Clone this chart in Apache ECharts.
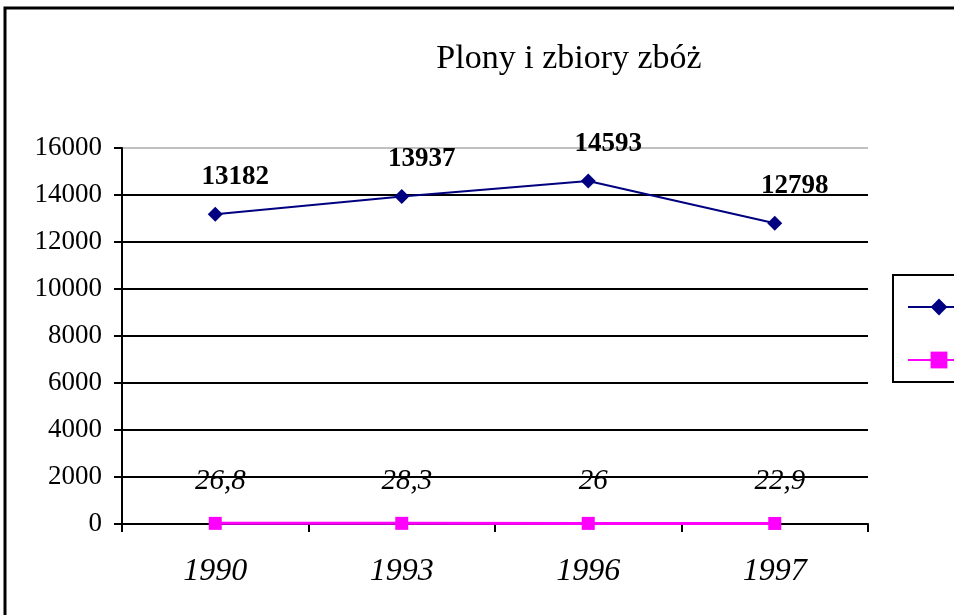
<!DOCTYPE html>
<html>
<head>
<meta charset="utf-8">
<script src="https://cdn.jsdelivr.net/npm/echarts@6/dist/echarts.min.js"></script>
<style>
  html, body { margin: 0; padding: 0; background: #fff; }
  #chart { width: 954px; height: 615px; }
</style>
</head>
<body>
<div id="chart"></div>
<script>
  // dane z wykresu
  var years = ['1990', '1993', '1996', '1997'];
  var zbiory = [13182, 13937, 14593, 12798];   // tys. t
  var plony = [26.8, 28.3, 26, 22.9];          // dt z 1 ha
  var seriesNames = ['zbiory w tys. t', 'plony z 1 ha w dt'];

  var serif = '"Liberation Serif", "DejaVu Serif", serif';
  var chart = echarts.init(document.getElementById('chart'));

  // górna linia siatki szara, reszta czarna
  var gridColors = ['#000', '#000', '#000', '#000', '#000', '#000', '#000', '#000', '#c0c0c0'];

  var option = {
    animation: false,
    backgroundColor: '#fff',
    title: {
      text: 'Plony i zbiory zbóż',
      left: 564,
      top: 37,
      textAlign: 'center',
      textStyle: { fontFamily: serif, fontWeight: 'normal', fontSize: 34, color: '#000' }
    },
    graphic: [{
      type: 'rect',
      shape: { x: 5, y: 8, width: 1200, height: 800 },
      style: { fill: 'none', stroke: '#000', lineWidth: 3 },
      silent: true
    }],
    legend: {
      left: 893,
      top: 275,
      orient: 'vertical',
      itemWidth: 62,
      itemHeight: 21,
      itemGap: 33,
      padding: [22, 40, 12, 14],
      borderColor: '#000',
      borderWidth: 2,
      textStyle: { fontFamily: serif, fontSize: 20, color: '#000' },
      data: seriesNames
    },
    grid: { left: 122, right: 86, top: 148, bottom: 91 },
    xAxis: {
      type: 'category',
      data: years,
      boundaryGap: true,
      axisLine: { lineStyle: { color: '#000', width: 2 } },
      axisTick: { show: true, length: 8, lineStyle: { color: '#000', width: 2 } },
      axisLabel: {
        margin: 32, fontFamily: serif, fontStyle: 'italic', fontSize: 32, color: '#000'
      },
      splitLine: { show: false }
    },
    yAxis: {
      type: 'value',
      min: 0,
      max: 16000,
      interval: 2000,
      axisLine: { show: true, lineStyle: { color: '#000', width: 2 } },
      axisTick: { show: true, length: 8, lineStyle: { color: '#000', width: 2 } },
      axisLabel: {
        margin: 20, fontFamily: serif, fontSize: 27, color: '#000',
        formatter: function (v) { return String(v); }
      },
      splitLine: { show: true, lineStyle: { color: gridColors, width: 2 } }
    },
    series: [
      {
        name: seriesNames[0],
        type: 'line',
        data: zbiory,
        symbol: 'diamond',
        symbolSize: 15,
        itemStyle: { color: '#000080' },
        lineStyle: { color: '#000080', width: 2 },
        label: {
          show: true,
          position: 'inside',
          offset: [20, -37],
          fontFamily: serif,
          fontWeight: 'bold',
          fontSize: 27,
          color: '#000'
        },
        z: 3
      },
      {
        name: seriesNames[1],
        type: 'line',
        data: plony,
        symbol: 'rect',
        symbolSize: 13,
        itemStyle: { color: '#ff00ff' },
        lineStyle: { color: '#ff00ff', width: 3 },
        label: {
          show: true,
          position: 'inside',
          offset: [5, -42],
          fontFamily: serif,
          fontStyle: 'italic',
          fontSize: 29,
          color: '#000',
          formatter: function (p) { return String(p.value).replace('.', ','); }
        },
        z: 4
      }
    ]
  };

  chart.setOption(option);
</script>
</body>
</html>
